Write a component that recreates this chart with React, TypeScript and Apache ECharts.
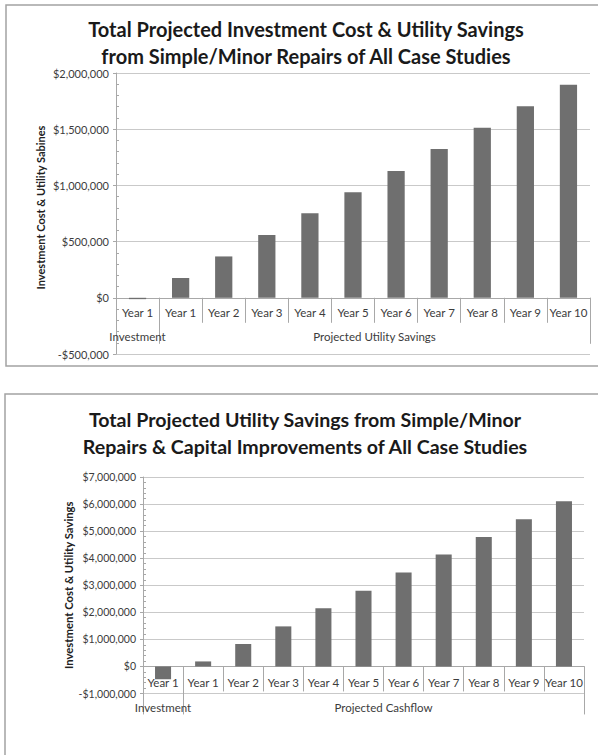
import React, { useEffect, useRef } from 'react';
import * as echarts from 'echarts';

// ---------- data ----------
const categories = ['Year 1', 'Year 1', 'Year 2', 'Year 3', 'Year 4', 'Year 5', 'Year 6', 'Year 7', 'Year 8', 'Year 9', 'Year 10'];

const topTitle = 'Total Projected Investment Cost & Utility Savings\nfrom Simple/Minor Repairs of All Case Studies';
const topYName = 'Investment Cost & Utility Sabines';
const topGroups = ['Investment', 'Projected Utility Savings'];
const topInvestment = [-12000];
const topSavings = [176000, 368000, 559000, 753000, 938000, 1129000, 1324000, 1512000, 1705000, 1895000];
const topAxis = { min: -500000, max: 2000000, interval: 500000 };

const botTitle = 'Total Projected Utility Savings from Simple/Minor\nRepairs & Capital Improvements of All Case Studies';
const botYName = 'Investment Cost & Utility Savings';
const botGroups = ['Investment', 'Projected Cashflow'];
const botInvestment = [-470000];
const botCashflow = [185000, 830000, 1480000, 2150000, 2800000, 3470000, 4140000, 4780000, 5440000, 6100000];
const botAxis = { min: -1000000, max: 7000000, interval: 1000000 };

// ---------- styles ----------
const FONT = 'Lato';
const TXT = '#3c3c3c';
const AXIS = '#a8a8a8';
const GRID = '#c9c9c9';
const BAR = '#6f6f6f';

function money(v: number): string {
  const s = String(Math.abs(v)).replace(/\B(?=(\d{3})+(?!\d))/g, ',');
  return (v < 0 ? '-$' : '$') + s;
}

interface Layout {
  nameGap: number;
  namePad: number[];
  nameSize: number;
  tickSize: number;
  groupTick: number;
  catMargin: number;
  groupMargin: number;
}

function buildAxes(g: number, axis: { min: number; max: number; interval: number }, yName: string, groups: string[], L: Layout) {
  const yMain = 2 * g;
  const xAxes = [
    // axis line + short category separators at the zero line
    {
      type: 'category',
      gridIndex: g,
      position: 'bottom',
      data: categories,
      axisLine: { show: true, onZero: true, onZeroAxisIndex: yMain, lineStyle: { color: AXIS } },
      axisTick: { show: true, interval: 0, length: 25, lineStyle: { color: AXIS } },
      axisLabel: { show: false },
      splitLine: { show: false },
    },
    // long group separators at the zero line
    {
      type: 'value',
      gridIndex: g,
      position: 'bottom',
      min: -0.5,
      max: 10.5,
      axisLine: { show: false, onZero: true, onZeroAxisIndex: yMain },
      axisTick: { show: true, length: L.groupTick, customValues: [-0.5, 0.5, 10.5], lineStyle: { color: AXIS } },
      axisLabel: { show: false },
      splitLine: { show: false },
    },
    // category labels
    {
      type: 'category',
      gridIndex: g,
      position: 'bottom',
      data: categories,
      axisLine: { show: false, onZero: false },
      axisTick: { show: false },
      axisLabel: { interval: 0, margin: L.catMargin, color: TXT, fontSize: 11.5, fontFamily: FONT },
      splitLine: { show: false },
    },
    // group labels
    {
      type: 'value',
      gridIndex: g,
      position: 'bottom',
      min: -0.5,
      max: 10.5,
      axisLine: { show: false, onZero: false },
      axisTick: { show: false },
      axisLabel: {
        show: true,
        customValues: [0, 5.5],
        margin: L.groupMargin,
        color: TXT,
        fontSize: 11.5,
        fontFamily: FONT,
        formatter: (v: number) => (v === 0 ? groups[0] : groups[1]),
      },
      splitLine: { show: false },
    },
  ];
  const yAxes = [
    {
      type: 'value',
      gridIndex: g,
      position: 'left',
      min: axis.min,
      max: axis.max,
      interval: axis.interval,
      axisLine: { show: true, onZero: false, lineStyle: { color: AXIS } },
      axisTick: { show: true, length: 3, lineStyle: { color: AXIS } },
      axisLabel: { formatter: money, color: TXT, fontSize: L.tickSize, margin: 7, fontFamily: FONT },
      splitLine: { show: true, lineStyle: { color: GRID } },
      name: yName,
      nameLocation: 'middle',
      nameRotate: 90,
      nameGap: L.nameGap,
      nameMoveOverlap: false,
      nameTextStyle: { fontWeight: 'bold', fontSize: L.nameSize, color: '#222', fontFamily: FONT, padding: L.namePad },
    },
    {
      type: 'value',
      gridIndex: g,
      position: 'left',
      min: axis.min,
      max: axis.max,
      interval: axis.interval,
      axisLine: { show: false, onZero: false },
      axisTick: { show: false, inside: true },
      minorTick: { show: true, splitNumber: 5, length: 3, lineStyle: { color: AXIS } },
      axisLabel: { show: false },
      splitLine: { show: false },
    },
  ];
  return { xAxes, yAxes };
}

export default function App() {
  const ref = useRef<HTMLDivElement>(null);

  useEffect(() => {
    if (!ref.current) return;
    const chart = echarts.init(ref.current, undefined, { renderer: 'svg' });
    const a = buildAxes(0, topAxis, topYName, topGroups, {
      nameGap: 70, namePad: [0, 0, 0, 12], nameSize: 11, tickSize: 11, groupTick: 46, catMargin: -48, groupMargin: -24,
    });
    const b = buildAxes(1, botAxis, botYName, botGroups, {
      nameGap: 69, namePad: [0, 0, 0, 0], nameSize: 11.3, tickSize: 10.5, groupTick: 48, catMargin: -17.5, groupMargin: 7.5,
    });

    chart.setOption({
      animation: false,
      backgroundColor: '#ffffff',
      title: [
        {
          text: topTitle,
          left: 306,
          top: 15,
          textAlign: 'center',
          padding: 0,
          textStyle: { fontFamily: FONT, fontWeight: 'bold', fontSize: 20, lineHeight: 27, color: '#1a1a1a' },
        },
        {
          text: botTitle,
          left: 305,
          top: 406,
          textAlign: 'center',
          padding: 0,
          textStyle: { fontFamily: FONT, fontWeight: 'bold', fontSize: 19.6, lineHeight: 27, color: '#1a1a1a' },
        },
      ],
      graphic: [
        { type: 'rect', shape: { x: 6, y: 5, width: 620, height: 361 }, style: { fill: 'none', stroke: '#a3a3a3', lineWidth: 1.5 }, silent: true },
        { type: 'rect', shape: { x: 5, y: 394, width: 620, height: 420 }, style: { fill: 'none', stroke: '#a3a3a3', lineWidth: 1.5 }, silent: true },
      ],
      grid: [
        { left: 116, right: 8, top: 73, bottom: 401 },
        { left: 143, right: 14, top: 477, bottom: 61.5 },
      ],
      xAxis: [...a.xAxes, ...b.xAxes],
      yAxis: [...a.yAxes, ...b.yAxes],
      series: [
        {
          type: 'bar',
          xAxisIndex: 0,
          yAxisIndex: 0,
          barWidth: '40%',
          itemStyle: { color: BAR },
          data: [...topInvestment, ...topSavings],
        },
        {
          type: 'bar',
          xAxisIndex: 4,
          yAxisIndex: 2,
          barWidth: '40%',
          itemStyle: { color: BAR },
          data: [...botInvestment, ...botCashflow],
        },
      ],
    });
    return () => chart.dispose();
  }, []);

  return <div ref={ref} style={{ position: 'absolute', left: 0, top: 0, width: 598, height: 755 }} />;
}
